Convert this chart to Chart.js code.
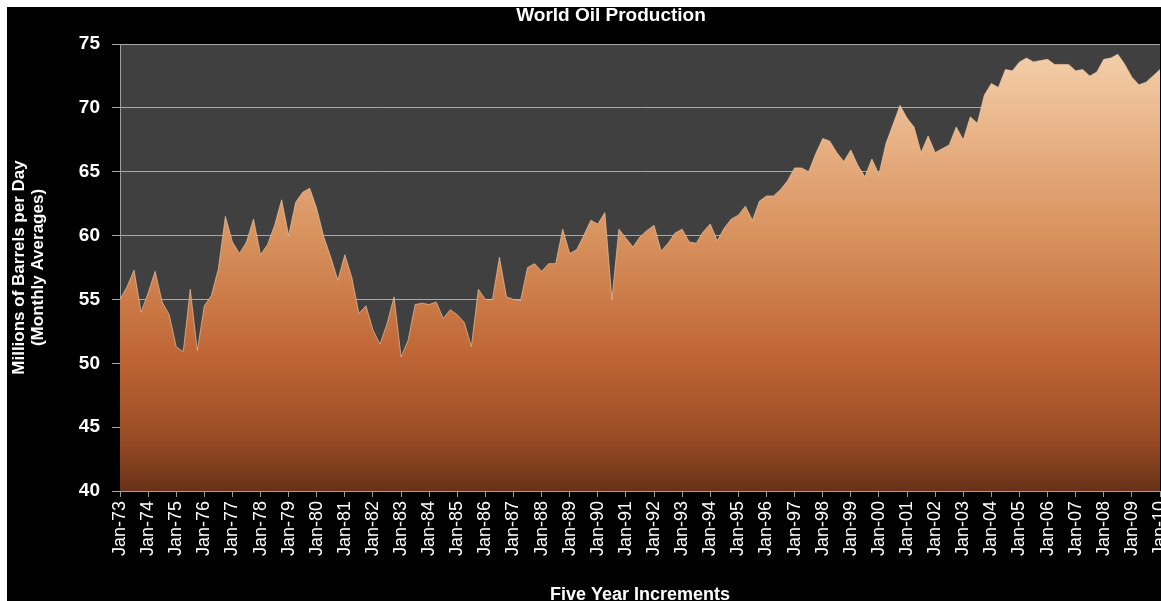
<!DOCTYPE html>
<html>
<head>
<meta charset="utf-8">
<title>World Oil Production</title>
<script src="https://cdn.jsdelivr.net/npm/chart.js@4.4.1/dist/chart.umd.min.js"></script>
<style>
    html, body { margin: 0; padding: 0; background: #ffffff; }
    #wrap { position: absolute; left: 7px; top: 7px; width: 1154px; height: 594px; background: #000000; }
</style>
</head>
<body>
<div id="wrap">
    <canvas id="oilChart" width="1154" height="594"></canvas>
</div>
<script>
// 年（2桁）と四半期の月
const years = ['73','74','75','76','77','78','79','80','81','82','83','84','85','86','87','88','89',
               '90','91','92','93','94','95','96','97','98','99','00','01','02','03','04','05','06',
               '07','08','09','10'];
const months = ['Jan', 'Apr', 'Jul', 'Oct'];

// 世界の石油生産量（百万バレル/日、四半期ごとの読み取り値）
const production = [
    55.0, 56.0, 57.3, 54.0,   // 73
    55.5, 57.2, 54.8, 53.8,   // 74
    51.3, 50.9, 55.8, 51.0,   // 75
    54.5, 55.3, 57.4, 61.5,   // 76
    59.5, 58.6, 59.5, 61.3,   // 77
    58.5, 59.3, 60.8, 62.8,   // 78
    60.0, 62.6, 63.4, 63.7,   // 79
    62.1, 59.9, 58.3, 56.5,   // 80
    58.5, 56.7, 53.9, 54.5,   // 81
    52.6, 51.5, 53.1, 55.2,   // 82
    50.5, 51.8, 54.6, 54.7,   // 83
    54.6, 54.8, 53.5, 54.2,   // 84
    53.8, 53.2, 51.3, 55.8,   // 85
    55.0, 55.0, 58.3, 55.2,   // 86
    55.0, 54.9, 57.5, 57.8,   // 87
    57.2, 57.8, 57.8, 60.5,   // 88
    58.6, 58.9, 60.0, 61.2,   // 89
    60.9, 61.8, 55.0, 60.5,   // 90
    59.8, 59.1, 59.9, 60.4,   // 91
    60.8, 58.8, 59.4, 60.2,   // 92
    60.5, 59.5, 59.4, 60.3,   // 93
    60.9, 59.6, 60.6, 61.3,   // 94
    61.6, 62.3, 61.2, 62.7,   // 95
    63.1, 63.1, 63.6, 64.3,   // 96
    65.3, 65.3, 65.0, 66.4,   // 97
    67.6, 67.4, 66.5, 65.8,   // 98
    66.7, 65.5, 64.6, 66.0,   // 99
    64.8, 67.2, 68.7, 70.2,   // 00
    69.2, 68.5, 66.5, 67.8,   // 01
    66.5, 66.8, 67.1, 68.5,   // 02
    67.5, 69.3, 68.8, 71.0,   // 03
    71.9, 71.6, 73.0, 72.9,   // 04
    73.6, 73.9, 73.6, 73.7,   // 05
    73.8, 73.4, 73.4, 73.4,   // 06
    72.9, 73.0, 72.5, 72.8,   // 07
    73.8, 73.9, 74.2, 73.4,   // 08
    72.4, 71.8, 72.0, 72.5,   // 09
    73.0                      // 10
];

// ラベルを作る（最後は Jan-10 だけ）
const labels = [];
years.forEach((y, i) => {
    if (i === years.length - 1) {
        labels.push('Jan-' + y);
    } else {
        months.forEach(m => labels.push(m + '-' + y));
    }
});

const yTicks = [40, 45, 50, 55, 60, 65, 70, 75];
const chartTitle = 'World Oil Production';

const font = 'Liberation Sans, Arial, sans-serif';

// プロットエリアの背景とタイトル
const plotBg = {
    id: 'plotBg',
    beforeDraw(chart) {
        const { ctx, chartArea } = chart;
        ctx.save();
        ctx.fillStyle = '#404040';
        ctx.fillRect(chartArea.left, chartArea.top, chartArea.right - chartArea.left, chartArea.bottom - chartArea.top);
        ctx.restore();
    },
    afterDraw(chart) {
        const ctx = chart.ctx;
        ctx.save();
        ctx.fillStyle = '#ffffff';
        ctx.font = 'bold 19px ' + font;
        ctx.textAlign = 'center';
        ctx.textBaseline = 'middle';
        ctx.fillText(chartTitle, 604, 9);
        ctx.restore();
    }
};

function areaGradient(context) {
    const area = context.chart.chartArea;
    if (!area) return '#c87040';
    const g = context.chart.ctx.createLinearGradient(0, area.top, 0, area.bottom);
    g.addColorStop(0.0, '#f4d2ae');
    g.addColorStop(0.2, '#e9b387');
    g.addColorStop(0.45, '#d68f5a');
    g.addColorStop(0.7, '#bf6535');
    g.addColorStop(0.88, '#9a4c24');
    g.addColorStop(1.0, '#683218');
    return g;
}

const chart = new Chart(document.getElementById('oilChart').getContext('2d'), {
    type: 'line',
    data: {
        labels: labels,
        datasets: [{
            label: chartTitle,
            data: production,
            fill: 'start',
            backgroundColor: areaGradient,
            borderColor: 'rgba(245, 210, 175, 0.6)',
            borderWidth: 1,
            pointRadius: 0,
            tension: 0
        }]
    },
    options: {
        responsive: false,
        animation: false,
        layout: { padding: { left: 0, right: 1, top: 37, bottom: 0 } },
        plugins: {
            legend: { display: false },
            tooltip: { enabled: false },
            title: { display: false }
        },
        scales: {
            x: {
                type: 'category',
                offset: false,
                grid: { drawOnChartArea: false, drawTicks: true, tickLength: 6, color: '#9a9a9a' },
                border: { color: '#a0a0a0', width: 1 },
                ticks: {
                    autoSkip: false,
                    maxRotation: 90,
                    minRotation: 90,
                    padding: 4,
                    color: '#ffffff',
                    font: { family: font, size: 18 },
                    callback: function(val, i) {
                        const lab = this.getLabelForValue(val);
                        return lab.startsWith('Jan') ? lab : null;
                    }
                },
                title: {
                    display: true,
                    text: 'Five Year Increments',
                    color: '#ffffff',
                    font: { family: font, size: 18, weight: 'bold' },
                    padding: { top: 0, bottom: -5 }
                },
                afterFit: function(scale) {
                    scale.height = 110;
                    scale.paddingLeft = 0;
                    scale.paddingRight = 0;
                }
            },
            y: {
                min: 40,
                max: 75,
                afterBuildTicks: function(scale) {
                    scale.ticks = yTicks.map(v => ({ value: v }));
                },
                grid: { color: '#a8a8a8', lineWidth: 1, tickLength: 8 },
                border: { color: '#a0a0a0', width: 1 },
                ticks: {
                    padding: 12,
                    color: '#ffffff',
                    font: { family: font, size: 19, weight: 'bold' }
                },
                title: {
                    display: true,
                    text: ['Millions of Barrels per Day', '(Monthly Averages)'],
                    color: '#ffffff',
                    font: { family: font, size: 17, weight: 'bold', lineHeight: 1.1 },
                    padding: { top: 3, bottom: 0 }
                },
                afterFit: function(scale) {
                    scale.width = 113;
                    scale.paddingTop = 0;
                    scale.paddingBottom = 0;
                }
            }
        }
    },
    plugins: [plotBg]
});
</script>
</body>
</html>
